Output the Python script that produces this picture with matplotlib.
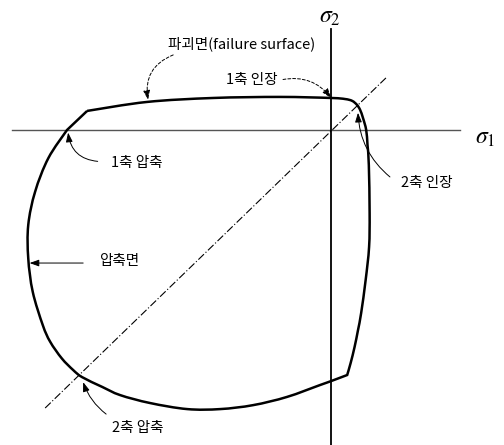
import matplotlib
matplotlib.use("Agg")
import matplotlib.pyplot as plt
from matplotlib.path import Path
from matplotlib.patches import PathPatch

plt.rcParams["font.family"] = ["Noto Sans CJK KR", "DejaVu Sans"]
plt.rcParams["mathtext.fontset"] = "stix"

# Biaxial failure envelope, stresses normalised by uniaxial compressive strength f'c
# (traced clockwise from the kink on the compression-tension branch)
surface_s1 = [-0.924, -0.697, -0.447, -0.193, 0.000, 0.053, 0.080, 0.098, 0.110,
              0.121, 0.133, 0.138, 0.143, 0.146, 0.144, 0.131, 0.114, 0.102,
              0.089, 0.074, 0.061, 0.000, -0.042, -0.167, -0.295, -0.420,
              -0.545, -0.686, -0.799, -0.867, -0.943, -0.977, -1.020, -1.064,
              -1.092, -1.130, -1.147, -1.147, -1.121, -1.071, -1.000, -0.924]
surface_s2 = [0.072, 0.106, 0.121, 0.125, 0.121, 0.117, 0.110, 0.095, 0.076,
              0.045, 0.000, -0.057, -0.133, -0.314, -0.443, -0.568, -0.693, -0.758,
              -0.822, -0.883, -0.928, -0.951, -0.966, -1.011, -1.042, -1.057,
              -1.057, -1.034, -1.004, -0.973, -0.936, -0.909, -0.865, -0.802,
              -0.739, -0.613, -0.486, -0.360, -0.234, -0.107, 0.000, 0.072]
# Vertices where the envelope has a kink (index into the lists above)
surface_breaks = [0, 20, 40, 41]

# Characteristic points on the envelope
uniaxial_tension = (0.000, 0.121)
uniaxial_compression = (-1.000, 0.000)
biaxial_tension = (0.098, 0.095)
biaxial_compression = (-0.943, -0.936)
compression_face = (-1.142, -0.504)
failure_point = (-0.693, 0.114)


def smooth_path(xs, ys, breaks):
    """Cubic Bezier path through the vertices, kinked only at the break indices."""
    verts = [(xs[0], ys[0])]
    codes = [Path.MOVETO]
    for a, b in zip(breaks[:-1], breaks[1:]):
        pts = list(zip(xs[a:b + 1], ys[a:b + 1]))
        n = len(pts)
        for i in range(n - 1):
            p0 = pts[i - 1] if i > 0 else pts[i]
            p1 = pts[i]
            p2 = pts[i + 1]
            p3 = pts[i + 2] if i + 2 < n else pts[i + 1]
            c1 = (p1[0] + (p2[0] - p0[0]) / 6, p1[1] + (p2[1] - p0[1]) / 6)
            c2 = (p2[0] - (p3[0] - p1[0]) / 6, p2[1] - (p3[1] - p1[1]) / 6)
            verts += [c1, c2, p2]
            codes += [Path.CURVE4] * 3
    return Path(verts, codes)


fig = plt.figure(figsize=(5.04, 4.45), dpi=100)
ax = fig.add_axes([0, 0, 1, 1])
ax.set_xlim(-1.254, 0.655)
ax.set_ylim(-1.193, 0.492)
ax.axis("off")

# Stress axes
ax.plot([-1.208, 0.489], [0, 0], color="#555555", lw=1.0, zorder=1)
ax.plot([0, 0], [-1.25, 0.383], color="black", lw=1.3, zorder=1)
# Equal biaxial loading path
ax.plot([-1.083, 0.212], [-1.053, 0.201], color="black", lw=0.8,
        linestyle=(0, (7, 2, 1, 2)), zorder=1)

# Failure surface
ax.add_patch(PathPatch(smooth_path(surface_s1, surface_s2, surface_breaks),
                       fill=False, edgecolor="black", lw=1.8,
                       joinstyle="miter", zorder=3))

ax.text(-0.004, 0.430, r"$\sigma_2$", fontsize=17, ha="center", va="center")
ax.text(0.585, -0.027, r"$\sigma_1$", fontsize=17, ha="center", va="center")


def note(text, txt_xy, start_xy, point, rad, dashed=False):
    ax.text(txt_xy[0], txt_xy[1], text, fontsize=10.5, ha="center", va="center")
    ax.annotate("", xy=point, xytext=start_xy,
                arrowprops=dict(arrowstyle="-|>,head_length=0.7,head_width=0.25",
                                connectionstyle=f"arc3,rad={rad}",
                                color="black", lw=0.7,
                                linestyle=(0, (3, 2)) if dashed else "-",
                                shrinkA=0, shrinkB=0, mutation_scale=8))


note("파괴면(failure surface)", (-0.337, 0.326), (-0.598, 0.284), failure_point, 0.4, dashed=True)
note("1축 인장", (-0.299, 0.189), (-0.182, 0.191), uniaxial_tension, -0.3, dashed=True)
note("1축 압축", (-0.735, -0.125), (-0.884, -0.119), (-0.996, -0.010), -0.4)
note("2축 인장", (0.364, -0.201), (0.223, -0.178), (0.102, 0.065), -0.22)
note("압축면", (-0.803, -0.496), (-0.939, -0.504), compression_face, 0.0)
note("2축 압축", (-0.731, -1.129), (-0.852, -1.076), (-0.939, -0.955), -0.15)

fig.savefig("out.png", dpi=100)
